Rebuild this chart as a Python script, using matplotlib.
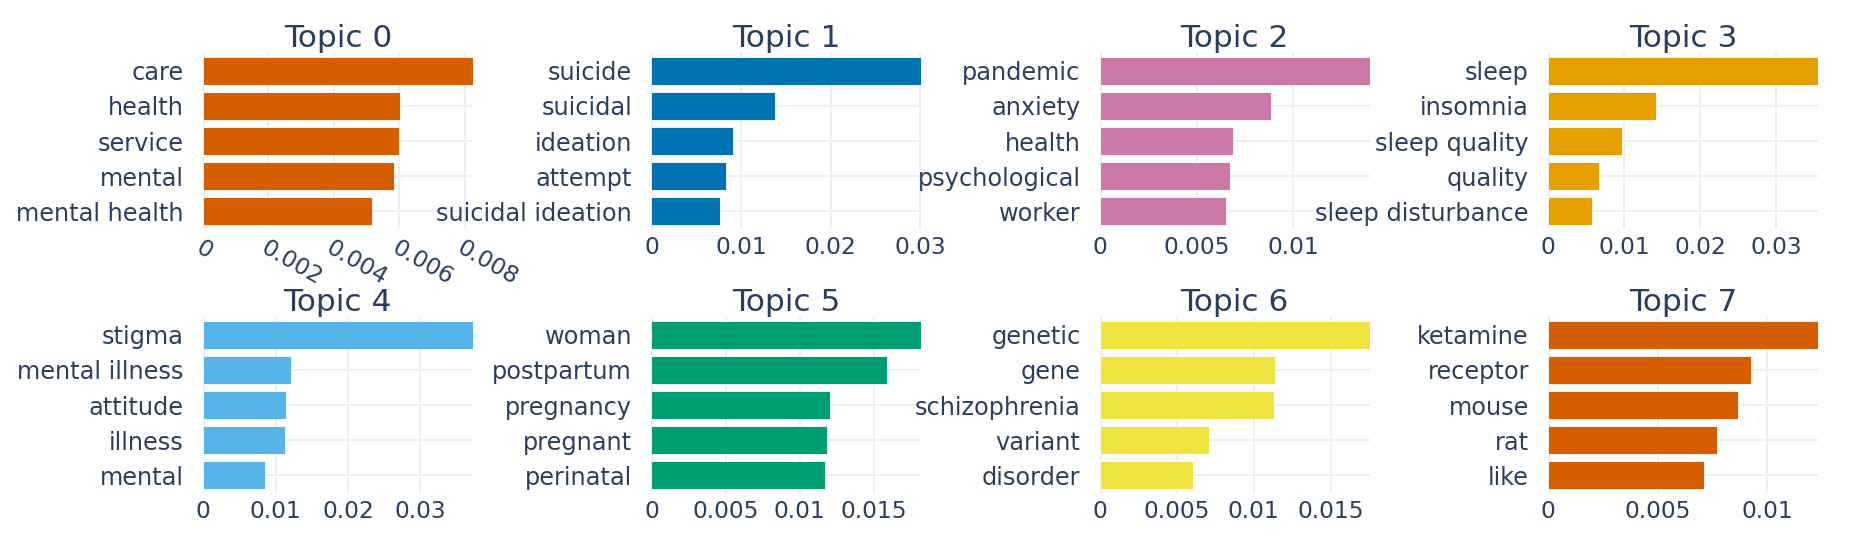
import matplotlib.pyplot as plt
from matplotlib.ticker import MultipleLocator, FuncFormatter

# topic words (top to bottom) and their c-TF-IDF scores
topic_names = ["Topic 0", "Topic 1", "Topic 2", "Topic 3",
               "Topic 4", "Topic 5", "Topic 6", "Topic 7"]

words_0 = ["care", "health", "service", "mental", "mental health"]
scores_0 = [0.00824, 0.00603, 0.00600, 0.00583, 0.00516]

words_1 = ["suicide", "suicidal", "ideation", "attempt", "suicidal ideation"]
scores_1 = [0.0301, 0.01377, 0.0091, 0.00833, 0.00763]

words_2 = ["pandemic", "anxiety", "health", "psychological", "worker"]
scores_2 = [0.01396, 0.00888, 0.00691, 0.00672, 0.00653]

words_3 = ["sleep", "insomnia", "sleep quality", "quality", "sleep disturbance"]
scores_3 = [0.03553, 0.01415, 0.00971, 0.00668, 0.00576]

words_4 = ["stigma", "mental illness", "attitude", "illness", "mental"]
scores_4 = [0.0372, 0.01215, 0.01142, 0.01137, 0.00857]

words_5 = ["woman", "postpartum", "pregnancy", "pregnant", "perinatal"]
scores_5 = [0.0182, 0.01588, 0.01202, 0.01188, 0.01168]

words_6 = ["genetic", "gene", "schizophrenia", "variant", "disorder"]
scores_6 = [0.01753, 0.01138, 0.01132, 0.00708, 0.00604]

words_7 = ["ketamine", "receptor", "mouse", "rat", "like"]
scores_7 = [0.01234, 0.00926, 0.00869, 0.00771, 0.00712]

colors = ["#D55E00", "#0072B2", "#CC79A7", "#E69F00",
          "#56B4E9", "#009E73", "#F0E442", "#D55E00"]
tick_steps = [0.002, 0.01, 0.005, 0.01, 0.01, 0.005, 0.005, 0.005]

all_words = [words_0, words_1, words_2, words_3, words_4, words_5, words_6, words_7]
all_scores = [scores_0, scores_1, scores_2, scores_3, scores_4, scores_5, scores_6, scores_7]

text_color = "#2a3f5f"
grid_color = "#EBF0F8"

plt.rcParams['font.family'] = ['DejaVu Sans']

fig, axes = plt.subplots(2, 4, figsize=(18.54, 5.42), dpi=100)
fig.subplots_adjust(left=0.1095, right=0.9806, top=0.9022, bottom=0.0904,
                    wspace=0.663, hspace=0.5)

fmt = FuncFormatter(lambda v, pos: f"{v:g}")

for i, ax in enumerate(axes.flat):
    words = all_words[i]
    scores = all_scores[i]
    ypos = list(range(len(words)))
    ax.barh(ypos, scores, height=0.8, color=colors[i],
            edgecolor="white", linewidth=0.6, zorder=3)
    ax.set_ylim(len(words) - 0.5, -0.5)
    ax.set_xlim(0, max(scores))
    ax.set_yticks(ypos)
    ax.set_yticklabels(words)
    ax.xaxis.set_major_locator(MultipleLocator(tick_steps[i]))
    ax.xaxis.set_major_formatter(fmt)

    ax.grid(True, color=grid_color, linewidth=1.5, zorder=0)
    ax.axvline(0, color=grid_color, linewidth=3, zorder=1)
    for s in ax.spines.values():
        s.set_visible(False)
    ax.tick_params(axis="y", length=0, pad=14, labelsize=17.3, labelcolor=text_color)
    ax.tick_params(axis="x", length=0, pad=5, labelsize=16.8, labelcolor=text_color)
    ax.set_title(topic_names[i], fontsize=22.5, color=text_color, pad=2.5)

    if i == 0:
        for lab in ax.get_xticklabels():
            lab.set_rotation(-30)
            lab.set_ha("left")
            lab.set_va("top")
            lab.set_rotation_mode("anchor")

fig.savefig("out.png", dpi=100, facecolor="white")
